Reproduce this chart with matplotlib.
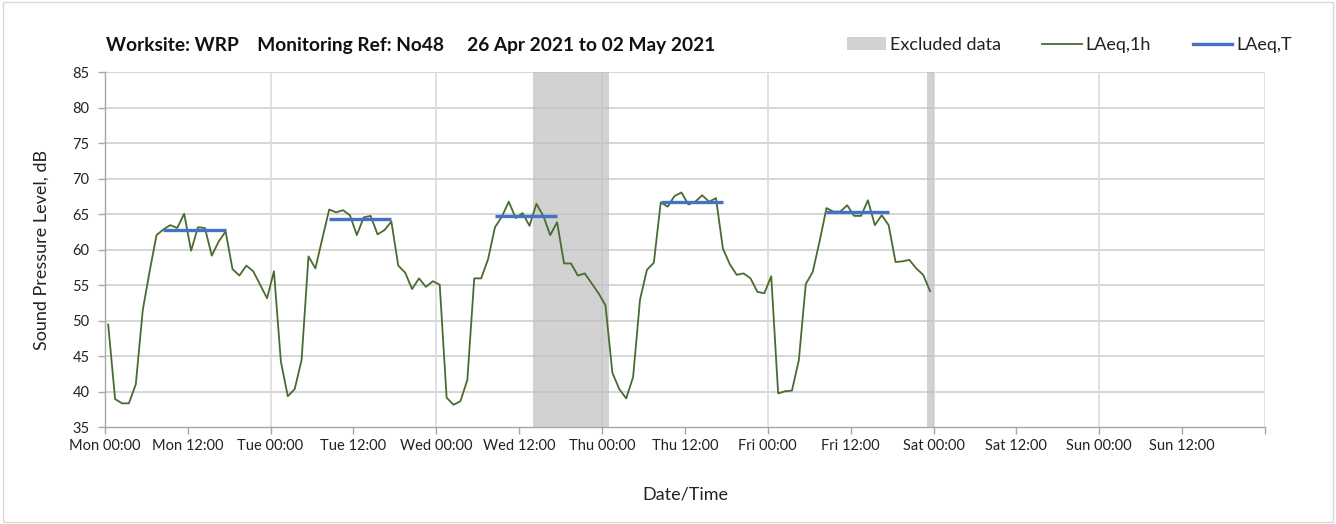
"""
Noise monitoring chart - hourly LAeq with daytime LAeq,T and excluded periods
"""
import matplotlib
matplotlib.use("Agg")
import matplotlib.pyplot as plt
from matplotlib.patches import Patch, Rectangle
from matplotlib.lines import Line2D

# Hourly LAeq,1h values (dB) from Mon 00:00, one value per hour
laeq_1h = [
    # Mon
    49.5, 39.0, 38.4, 38.4, 41.1, 51.5, 57.0, 62.1, 62.9, 63.5, 63.1, 65.1,
    59.9, 63.2, 63.1, 59.2, 61.2, 62.6, 57.3, 56.4, 57.8, 57.0, 55.1, 53.2,
    # Tue
    57.0, 44.3, 39.4, 40.4, 44.5, 59.1, 57.4, 61.6, 65.7, 65.3, 65.6, 64.9,
    62.1, 64.6, 64.8, 62.2, 62.8, 64.0, 57.8, 56.8, 54.5, 56.0, 54.8, 55.6,
    # Wed
    55.1, 39.2, 38.2, 38.7, 41.7, 56.0, 56.0, 58.7, 63.2, 64.7, 66.8, 64.5,
    65.2, 63.4, 66.5, 64.8, 62.1, 63.9, 58.1, 58.1, 56.4, 56.7, 55.3, 53.9,
    # Thu
    52.2, 42.7, 40.4, 39.1, 42.1, 53.0, 57.2, 58.2, 66.7, 66.1, 67.6, 68.1,
    66.4, 66.8, 67.7, 66.8, 67.3, 60.2, 58.0, 56.5, 56.7, 56.0, 54.1, 53.9,
    # Fri
    56.3, 39.8, 40.1, 40.2, 44.5, 55.2, 56.9, 61.2, 65.9, 65.4, 65.4, 66.3,
    64.8, 64.8, 67.0, 63.5, 64.9, 63.5, 58.3, 58.4, 58.6, 57.4, 56.5, 54.2,
]

# Daytime LAeq,T (08:00-18:00) for each weekday
laeq_t = [62.8, 64.4, 64.8, 66.7, 65.3]
day_start, day_end = 8, 18

# Excluded periods, in hours from Mon 00:00
excluded = [(62, 73), (119, 120)]

days = ["Mon", "Tue", "Wed", "Thu", "Fri", "Sat", "Sun"]
title = "Worksite: WRP    Monitoring Ref: No48     26 Apr 2021 to 02 May 2021"

plt.rcParams["font.family"] = ["Lato", "DejaVu Sans"]

fig = plt.figure(figsize=(13.36, 5.24), dpi=100)
ax = fig.add_axes([0.0784, 0.1842, 0.8685, 0.6775])

# Excel style: each hourly point sits in the middle of its hour
hours = [h + 0.5 for h in range(len(laeq_1h))]

for start, end in excluded:
    ax.axvspan(start, end, color="#bfbfbf", alpha=0.7, lw=0, zorder=1)

ax.plot(hours, laeq_1h, color="#4a6b30", lw=1.3, zorder=3)

for d, val in enumerate(laeq_t):
    x0 = d * 24 + day_start + 0.5
    x1 = d * 24 + day_end - 0.5
    ax.plot([x0, x1], [val, val], color="#4472c4", lw=2.4,
            solid_capstyle="butt", zorder=4)

ax.set_xlim(0, 168)
ax.set_ylim(35, 85)
ax.set_yticks(range(35, 86, 5))
ax.set_xticks(range(0, 169, 12))
labels = [f"{days[i // 2]} {'00:00' if i % 2 == 0 else '12:00'}" for i in range(14)]
ax.set_xticklabels(labels + [""])

# gridlines
for y in range(40, 86, 5):
    ax.axhline(y, color="#cfcfcf", lw=1.2, zorder=0)
for x in range(24, 169, 24):
    ax.axvline(x, color="#dcdcdc", lw=1.2, zorder=0)

for side in ["top", "right"]:
    ax.spines[side].set_visible(False)
for side in ["left", "bottom"]:
    ax.spines[side].set_color("#a6a6a6")
    ax.spines[side].set_linewidth(1.0)

ax.tick_params(axis="both", colors="#a6a6a6", length=5, width=1.0,
               labelcolor="#222222", labelsize=10.5)
ax.tick_params(axis="y", pad=6)

ax.set_ylabel("Sound Pressure Level, dB", fontsize=13, color="#222222", labelpad=16)
ax.set_xlabel("Date/Time", fontsize=13, color="#222222", labelpad=24)

fig.text(0.079, 0.914, title, fontsize=13.8, fontweight="bold", va="center",
         ha="left", color="#111111")

handles = [
    Patch(facecolor="#d2d2d2", edgecolor="none"),
    Line2D([0], [0], color="#4a6b30", lw=1.3),
    Line2D([0], [0], color="#4472c4", lw=2.4),
]
fig.legend(handles, ["Excluded data", "LAeq,1h", "LAeq,T"], ncol=3,
           loc="center right", bbox_to_anchor=(0.979, 0.914), frameon=False,
           fontsize=13, handlelength=2.2, handletextpad=0.2, columnspacing=2.3,
           labelcolor="#222222")

# light frame around the whole chart area
fig.patches.append(Rectangle((0.002, 0.003), 0.996, 0.994, transform=fig.transFigure,
                             fill=False, edgecolor="#d9d9d9", lw=1.0))

fig.savefig("out.png", dpi=100)
